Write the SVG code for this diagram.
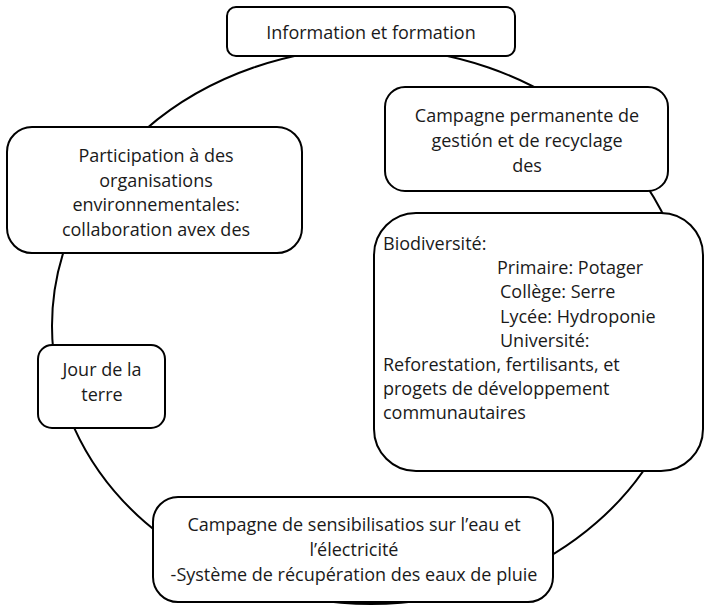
<svg xmlns="http://www.w3.org/2000/svg" width="704" height="609" viewBox="0 0 704 609">
<style>
.box{fill:#fff;stroke:#000;stroke-width:2}
.conn{fill:none;stroke:#000;stroke-width:2}
text{font-family:"Open Sans","Liberation Sans",sans-serif;font-size:18px;fill:#1a1a1a}
.c{text-anchor:middle}
</style>
<rect width="704" height="609" fill="#fff"/>
<g id="connectors">
<ellipse class="conn" cx="371" cy="326" rx="319" ry="278"/>
</g>
<g id="info">
<rect class="box" x="227" y="7" width="288" height="49" rx="9"/>
<text class="c" x="371" y="39">Information et formation</text>
</g>
<g id="recyclage">
<rect class="box" x="385" y="87" width="283" height="104" rx="20"/>
<text class="c" x="527" y="122">Campagne permanente de</text>
<text class="c" x="527" y="147">gestión et de recyclage</text>
<text class="c" x="527" y="172">des</text>
</g>
<g id="participation">
<rect class="box" x="7" y="127" width="295" height="126" rx="25"/>
<text class="c" x="156" y="162">Participation à des</text>
<text class="c" x="156" y="187">organisations</text>
<text class="c" x="156" y="211">environnementales:</text>
<text class="c" x="156" y="236">collaboration avex des</text>
</g>
<g id="biodiversite">
<rect class="box" x="374" y="213" width="329" height="258" rx="42"/>
<text x="383" y="250">Biodiversité:</text>
<text x="497" y="274">Primaire: Potager</text>
<text x="500" y="298">Collège: Serre</text>
<text x="500" y="323">Lycée: Hydroponie</text>
<text x="500" y="347">Université:</text>
<text x="383" y="371">Reforestation, fertilisants, et</text>
<text x="383" y="395">progets de développement</text>
<text x="383" y="419">communautaires</text>
</g>
<g id="jour">
<rect class="box" x="38" y="345" width="127" height="83" rx="14"/>
<text class="c" x="102" y="376">Jour de la</text>
<text class="c" x="102" y="401">terre</text>
</g>
<g id="eau">
<rect class="box" x="153" y="497" width="400" height="105" rx="25"/>
<text class="c" x="354" y="531">Campagne de sensibilisatios sur l’eau et</text>
<text class="c" x="354" y="556">l’électricité</text>
<text class="c" x="354" y="581">-Système de récupération des eaux de pluie</text>
</g>
</svg>
